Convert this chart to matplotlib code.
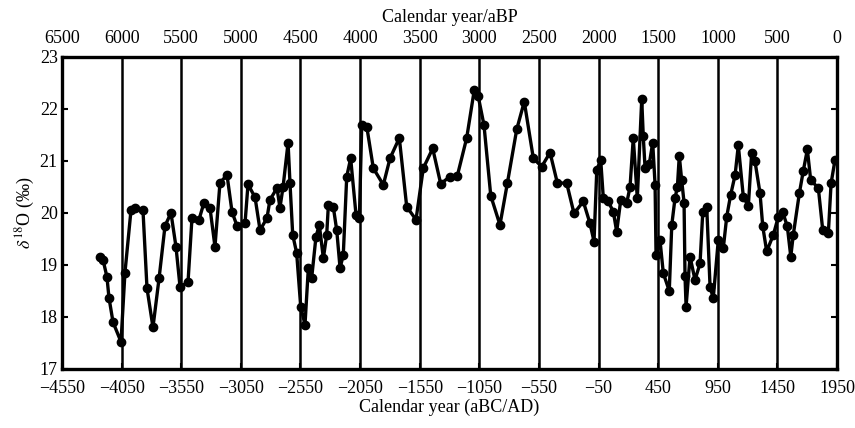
import numpy as np
import matplotlib
matplotlib.use("Agg")
import matplotlib.pyplot as plt

plt.rcParams['font.family'] = ['Liberation Serif', 'DejaVu Serif']
plt.rcParams['mathtext.fontset'] = 'stix'

# calendar year (aBC/AD) and delta 18O values
years = [-4231, -4206, -4173, -4156, -4122, -4055, -4022, -3971, -3938, -3871,
         -3837, -3787, -3736, -3686, -3636, -3594, -3560, -3493, -3460, -3401,
         -3359, -3309, -3267, -3225, -3166, -3124, -3082, -3015, -2990, -2931,
         -2889, -2831, -2806, -2747, -2722, -2696, -2654, -2638, -2615, -2582,
         -2548, -2512, -2484, -2456, -2420, -2392, -2358, -2330, -2316, -2275,
         -2246, -2218, -2191, -2162, -2129, -2084, -2056, -2036, -1994, -1939,
         -1855, -1799, -1721, -1659, -1581, -1520, -1441, -1374, -1296, -1235,
         -1156, -1092, -1059, -1011, -954, -877, -815, -736, -673, -597,
         -527, -457, -396, -317, -256, -178, -122, -88, -65, -32,
         -10, 32, 74, 102, 136, 186, 214, 241, 275, 312,
         325, 340, 376, 404, 424, 432, 465, 493, 543, 564,
         591, 611, 627, 647, 667, 675, 684, 717, 759, 801,
         824, 857, 885, 912, 954, 996, 1025, 1058, 1095, 1122,
         1164, 1206, 1234, 1262, 1304, 1327, 1360, 1416, 1458, 1494,
         1533, 1562, 1583, 1634, 1667, 1701, 1729, 1793, 1830, 1877,
         1900, 1933]
d18o = [19.15, 19.10, 18.77, 18.37, 17.90, 17.52, 18.85, 20.06, 20.10, 20.06,
        18.55, 17.80, 18.74, 19.75, 20.00, 19.35, 18.58, 18.67, 19.90, 19.87,
        20.20, 20.10, 19.35, 20.58, 20.73, 20.02, 19.75, 19.80, 20.55, 20.30,
        19.67, 19.90, 20.25, 20.48, 20.10, 20.50, 21.35, 20.58, 19.58, 19.23,
        18.20, 17.85, 18.94, 18.75, 19.54, 19.77, 19.13, 19.58, 20.15, 20.12,
        19.67, 18.94, 19.19, 20.70, 21.05, 19.96, 19.90, 21.69, 21.66, 20.86,
        20.54, 21.05, 21.44, 20.12, 19.87, 20.86, 21.24, 20.56, 20.70, 20.71,
        21.44, 22.37, 22.24, 21.69, 20.33, 19.77, 20.57, 21.61, 22.14, 21.05,
        20.89, 21.16, 20.58, 20.57, 19.99, 20.22, 19.80, 19.45, 20.83, 21.02,
        20.28, 20.22, 20.02, 19.64, 20.25, 20.19, 20.50, 21.44, 20.28, 22.19,
        21.47, 20.86, 20.95, 21.35, 20.54, 19.19, 19.48, 18.84, 18.50, 19.77,
        20.28, 20.50, 21.10, 20.63, 20.20, 18.78, 18.20, 19.16, 18.71, 19.03,
        20.02, 20.12, 18.58, 18.36, 19.48, 19.32, 19.93, 20.35, 20.73, 21.30,
        20.31, 20.13, 21.16, 20.99, 20.38, 19.74, 19.26, 19.58, 19.93, 20.02,
        19.74, 19.16, 19.58, 20.38, 20.81, 21.22, 20.63, 20.48, 19.67, 19.61,
        20.57, 21.02]

bottom_ticks = list(range(-4550, 1951, 500))
top_ticks = list(range(6500, -1, -500))
grid_years = list(range(-4050, 1451, 500))

fig = plt.figure(figsize=(8.55, 4.28), dpi=100)
ax = fig.add_axes([0.0725, 0.138, 0.9065, 0.729])

# vertical guide lines every 500 years
for g in grid_years:
    ax.axvline(g, color='black', lw=1.8, zorder=1)

ax.plot(years, d18o, color='black', lw=2.4, marker='o', ms=6, zorder=3)

ax.set_xlim(-4550, 1950)
ax.set_ylim(17, 23)
ax.set_xticks(bottom_ticks)
ax.set_yticks(range(17, 24))
ax.tick_params(axis='both', direction='in', labelsize=13, width=1.5, length=4)
ax.tick_params(axis='y', right=True, pad=3)
ax.tick_params(axis='x', pad=8)
for s in ax.spines.values():
    s.set_linewidth(2.4)

ax.set_xlabel('Calendar year (aBC/AD)', fontsize=13, labelpad=1)
ax.set_ylabel(r'$\delta^{18}$O (‰)', fontsize=13, labelpad=2)

# top axis in years before present
top = ax.secondary_xaxis('top', functions=(lambda x: 1950 - x, lambda x: 1950 - x))
top.set_xticks(top_ticks)
top.tick_params(direction='in', labelsize=13, length=0, pad=7)
top.set_xlabel('Calendar year/aBP', fontsize=13, labelpad=6)

fig.savefig('out.png', dpi=100)
